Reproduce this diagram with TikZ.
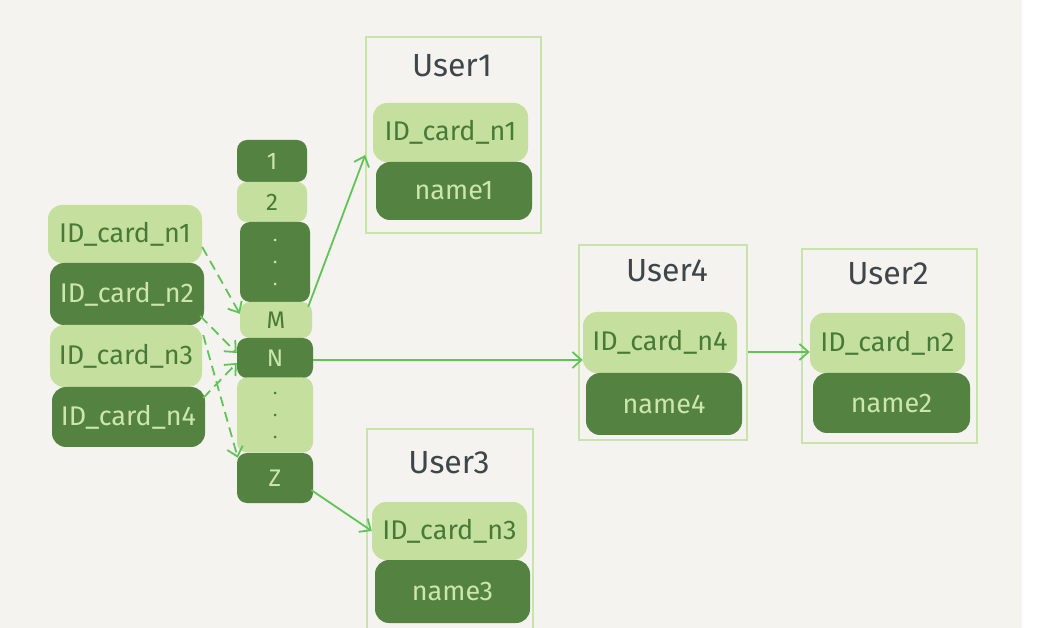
\documentclass[tikz,border=0pt]{standalone}
\usepackage{fontspec}
\setmainfont{Fira Sans}
\usetikzlibrary{arrows.meta}
\definecolor{bgc}{RGB}{244,243,239}
\definecolor{lg}{RGB}{197,224,158}
\definecolor{dg}{RGB}{84,131,65}
\definecolor{lgtext}{RGB}{205,230,170}
\definecolor{dgtext}{RGB}{72,122,55}
\definecolor{frame}{RGB}{200,228,170}
\definecolor{arr}{RGB}{96,196,86}
\definecolor{title}{RGB}{62,70,74}
\tikzset{
  lightbox/.style={fill=lg, text=dgtext, rounded corners=14pt, inner sep=0pt, font=\fontsize{27}{30}\selectfont},
  darkbox/.style={fill=dg, text=lgtext, rounded corners=14pt, inner sep=0pt, font=\fontsize{27}{30}\selectfont},
  lcell/.style={fill=lg, text=dgtext, rounded corners=10pt, inner sep=0pt, font=\fontsize{24}{26}\selectfont},
  dcell/.style={fill=dg, text=lgtext, rounded corners=10pt, inner sep=0pt, font=\fontsize{24}{26}\selectfont},
  userframe/.style={draw=frame, line width=1.6pt, inner sep=0pt},
  usertitle/.style={text=title, font=\fontsize{32}{36}\selectfont},
  link/.style={draw=arr, line width=1.8pt, -{Straight Barb[length=9pt,width=16pt,line width=1.8pt]}},
  dlink/.style={link, dash pattern=on 10pt off 6pt},
  dotl/.style={fill=lgtext},
  dotd/.style={fill=dgtext}
}
\begin{document}
\begin{tikzpicture}[x=1pt,y=-1pt]
\useasboundingbox (0,0) rectangle (1045,628);
\fill[white] (0,0) rectangle (1045,628);
\fill[bgc] (0,0) rectangle (1022,628);

% left keys
\node[lightbox, minimum width=154pt, minimum height=58pt] (k1) at (125,234) {ID\_card\_n1};
\node[darkbox, minimum width=154pt, minimum height=62pt] (k2) at (127,294) {ID\_card\_n2};
\node[lightbox, minimum width=152pt, minimum height=62pt] (k3) at (126,356) {ID\_card\_n3};
\node[darkbox, minimum width=153pt, minimum height=60pt] (k4) at (128.5,417) {ID\_card\_n4};

% index column
\node[dcell, minimum width=70pt, minimum height=42pt] (i1) at (272,161) {1};
\node[lcell, minimum width=70pt, minimum height=40pt] (i2) at (272,202) {2};
\node[dcell, minimum width=70pt, minimum height=80pt] (id1) at (275,262) {};
\node[lcell, minimum width=72pt, minimum height=36pt] (iM) at (276,320) {M};
\node[dcell, minimum width=76pt, minimum height=40pt] (iN) at (275,358) {N};
\node[lcell, minimum width=76pt, minimum height=75pt] (id2) at (275,415) {};
\node[dcell, minimum width=76pt, minimum height=50pt] (iZ) at (275,478) {Z};
\foreach \yy in {-22,0,22} {
  \fill[dotl] ([yshift=\yy pt]id1.center) circle (1.5pt);
  \fill[dotd] ([yshift=\yy pt]id2.center) circle (1.5pt);
}

% User1
\node[userframe, minimum width=175pt, minimum height=196pt] (u1) at (453.5,135) {};
\node[usertitle] (t1) at (452,66) {User1};
\node[lightbox, minimum width=155pt, minimum height=59pt] (u1k) at (450.5,132.5) {ID\_card\_n1};
\node[darkbox, minimum width=156pt, minimum height=58pt] (u1n) at (454,191) {name1};

% User4
\node[userframe, minimum width=168pt, minimum height=195pt] (u4) at (663,342.5) {};
\node[usertitle] (t4) at (667,271) {User4};
\node[lightbox, minimum width=154pt, minimum height=61pt] (u4k) at (660,342.5) {ID\_card\_n4};
\node[darkbox, minimum width=156pt, minimum height=62pt] (u4n) at (664,404) {name4};

% User2
\node[userframe, minimum width=175pt, minimum height=194pt] (u2) at (889.5,346) {};
\node[usertitle] (t2) at (888,274) {User2};
\node[lightbox, minimum width=155pt, minimum height=60pt] (u2k) at (887.5,343) {ID\_card\_n2};
\node[darkbox, minimum width=157pt, minimum height=60pt] (u2n) at (891.5,403) {name2};

% User3
\node[userframe, minimum width=166pt, minimum height=210pt] (u3) at (450,534) {};
\node[usertitle] (t3) at (449,463) {User3};
\node[lightbox, minimum width=155pt, minimum height=58pt] (u3k) at (449.5,531) {ID\_card\_n3};
\node[darkbox, minimum width=155pt, minimum height=63pt] (u3n) at (452.5,591.5) {name3};

% dashed links
\draw[dlink] ([yshift=-13pt]k1.east) -- ([yshift=-12pt]iM.north west);
\draw[dlink] ([yshift=-22pt,xshift=-4pt]k2.east) -- ([yshift=5pt]iN.west);
\draw[dlink] ([yshift=19pt,xshift=-2pt]k4.east) -- ([yshift=-5pt]iN.west);
\draw[dlink] ([yshift=21pt,xshift=1pt]k3.east) -- ([xshift=1pt,yshift=-5pt]iZ.north west);

% solid links
\draw[link] ([xshift=-4pt,yshift=-5pt]iM.north east) -- ([yshift=-20pt]u1.west);
\draw[link] ([yshift=-2pt]iN.east) -- ([yshift=-2pt]iN.east -| u4k.west);
\draw[link] ([yshift=-12pt,xshift=-2pt]iZ.east) -- (u3k.west);
\draw[link] ([yshift=-9.5pt]u4.east) -- ([yshift=-9.5pt]u4.east -| u2k.west);
\end{tikzpicture}
\end{document}
